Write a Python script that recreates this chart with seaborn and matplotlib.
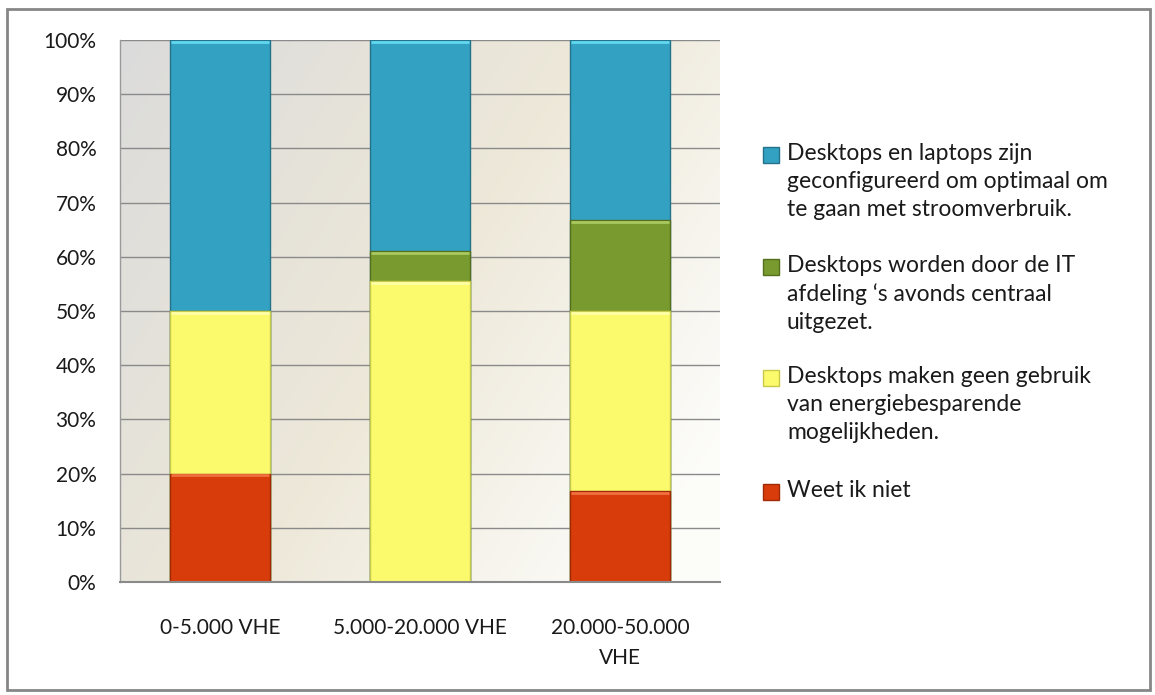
import numpy as np
import pandas as pd
import matplotlib
matplotlib.use("Agg")
import matplotlib.pyplot as plt
import seaborn as sns
from matplotlib.patches import Rectangle

# data (percentages per category)
categories = ["0-5.000 VHE", "5.000-20.000 VHE", "20.000-50.000\nVHE"]
weet_niet = [20.0, 0.0, 16.7]
geen_gebruik = [30.0, 55.6, 33.3]
centraal_uit = [0.0, 5.5, 16.7]
geconfigureerd = [50.0, 38.9, 33.3]

series_labels = [
    "Weet ik niet",
    "Desktops maken geen gebruik\nvan energiebesparende\nmogelijkheden.",
    "Desktops worden door de IT\nafdeling \u2018s avonds centraal\nuitgezet.",
    "Desktops en laptops zijn\ngeconfigureerd om optimaal om\nte gaan met stroomverbruik.",
]
series_values = [weet_niet, geen_gebruik, centraal_uit, geconfigureerd]
fill_colors = ["#d93c0b", "#fbfa6c", "#789a2e", "#33a2c2"]
edge_colors = ["#a02a06", "#c8c84a", "#556f1e", "#23728a"]
top_colors = ["#f07040", "#ffffa8", "#a8c860", "#60d8f0"]

W, H = 1155, 695

sns.set_theme(style="white")
plt.rcParams["font.family"] = ["Lato", "DejaVu Sans"]

fig = plt.figure(figsize=(W / 100, H / 100), dpi=100)
ax = fig.add_axes([120 / W, 1 - 582 / H, 600 / W, 542 / H])

# outer frame around the chart
fig.patches.append(Rectangle((7 / W, 5 / H), 1143 / W, 681 / H,
                             transform=fig.transFigure, fill=False,
                             edgecolor="#868686", linewidth=2))

# background gradient of the plot area (grey top-left -> cream -> near white bottom-right)
xx = np.linspace(0, 1, 200)
yy = np.linspace(0, 1, 200)
gx, gy = np.meshgrid(xx, yy)
t = np.clip(0.7 * gx + 0.4 * gy, 0, 1)[..., None]
c0 = np.array([0.86, 0.86, 0.86])
c1 = np.array([0.93, 0.91, 0.85])
c2 = np.array([0.99, 0.99, 0.98])
img = np.where(t < 0.55, c0 + (c1 - c0) * (t / 0.55),
               c1 + (c2 - c1) * ((t - 0.55) / 0.45))
ax.imshow(img, extent=[-0.5, 2.5, 0, 100], aspect="auto", origin="upper", zorder=0)

for y in range(10, 101, 10):
    ax.axhline(y, color="#8a8a8a", linewidth=1, zorder=1)

# stacked bars: draw cumulative totals from top layer down
cum = np.cumsum(np.array(series_values), axis=0)
for i in range(len(series_values) - 1, -1, -1):
    df = pd.DataFrame({"cat": categories, "val": cum[i]})
    sns.barplot(data=df, x="cat", y="val", color=fill_colors[i], width=0.5,
                edgecolor=edge_colors[i], linewidth=1, saturation=1, ax=ax,
                zorder=2)

# light bevel line at the top of every segment
for i in range(len(series_values)):
    for j in range(len(categories)):
        if series_values[i][j] > 0:
            ax.hlines(cum[i][j] - 0.35, j - 0.245, j + 0.245,
                      color=top_colors[i], linewidth=2, zorder=3)

ax.set_xlim(-0.5, 2.5)
ax.set_ylim(0, 100)
ax.set_yticks(range(0, 101, 10))
ax.set_yticklabels([f"{v}%" for v in range(0, 101, 10)], fontsize=15, color="#1a1a1a")
ax.set_xticklabels(categories, fontsize=15, color="#1a1a1a", linespacing=1.6)
ax.tick_params(axis="x", length=0, pad=26)
ax.tick_params(axis="y", length=0, pad=17)
ax.set_xlabel("")
ax.set_ylabel("")
for s in ["top", "right"]:
    ax.spines[s].set_visible(False)
ax.spines["left"].set_color("#9a9a9a")
ax.spines["left"].set_linewidth(1)
ax.spines["bottom"].set_color("#8a8a8a")
ax.spines["bottom"].set_linewidth(1.5)

# legend drawn by hand: marker aligned with first line of each entry
entry_tops = [155, 267, 378, 492]
for k, i in enumerate(range(3, -1, -1)):
    yc = entry_tops[k]
    fig.patches.append(Rectangle((763 / W, 1 - (yc + 8) / H), 16 / W, 16 / H,
                                 transform=fig.transFigure, facecolor=fill_colors[i],
                                 edgecolor=edge_colors[i], linewidth=1))
    fig.text(787 / W, 1 - (yc - 12) / H, series_labels[i], fontsize=16.5,
             color="#1a1a1a", va="top", ha="left", linespacing=1.42)

fig.savefig("out.png", dpi=100)
